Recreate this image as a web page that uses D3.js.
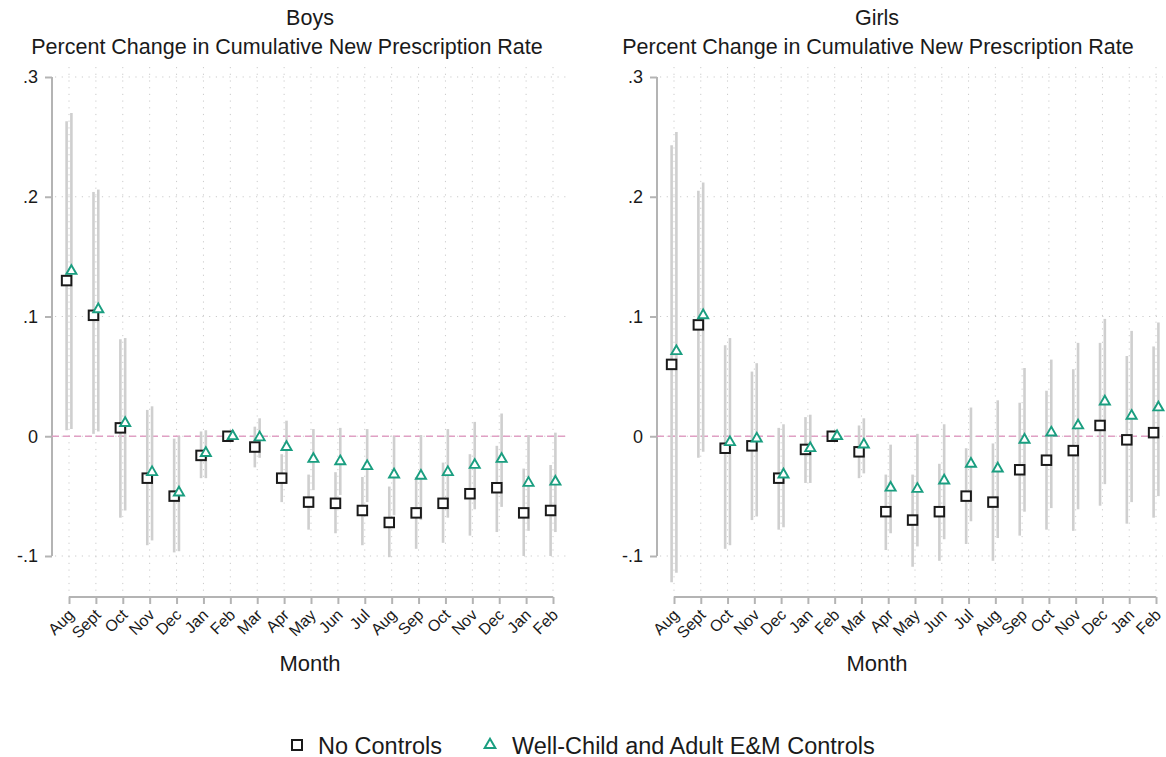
<!DOCTYPE html>
<html>
<head>
<meta charset="utf-8">
<script src="https://cdn.jsdelivr.net/npm/d3@7"></script>
<style>
  html, body { margin: 0; padding: 0; background: #fff; }
  svg { display: block; font-family: "Liberation Sans", Arial, Helvetica, sans-serif; }
</style>
</head>
<body>
<svg id="chart" width="1166" height="757"></svg>
<script>
// ---------- DATA ----------
const months = ["Aug","Sept","Oct","Nov","Dec","Jan","Feb","Mar","Apr","May","Jun","Jul","Aug","Sep","Oct","Nov","Dec","Jan","Feb"];
const yTicks = [0.3, 0.2, 0.1, 0, -0.1];
const yTickLabels = [".3", ".2", ".1", "0", "-.1"];
const seriesNames = ["No Controls", "Well-Child and Adult E&M Controls"];

// Boys
const boysNoCtrl      = [0.130, 0.101, 0.007, -0.035, -0.050, -0.016, 0, -0.009, -0.035, -0.055, -0.056, -0.062, -0.072, -0.064, -0.056, -0.048, -0.043, -0.064, -0.062];
const boysNoCtrlLo    = [0.005, 0.002, -0.068, -0.091, -0.097, -0.035, null, -0.026, -0.055, -0.078, -0.081, -0.091, -0.101, -0.094, -0.089, -0.083, -0.080, -0.100, -0.100];
const boysNoCtrlHi    = [0.263, 0.204, 0.081, 0.022, -0.002, 0.004, null, 0.008, -0.015, -0.032, -0.030, -0.034, -0.042, -0.034, -0.022, -0.015, -0.008, -0.027, -0.024];
const boysCtrl        = [0.138, 0.106, 0.011, -0.030, -0.047, -0.014, 0, -0.001, -0.009, -0.019, -0.021, -0.025, -0.032, -0.033, -0.030, -0.024, -0.019, -0.039, -0.038];
const boysCtrlLo      = [0.006, 0.004, -0.062, -0.087, -0.096, -0.035, null, -0.018, -0.030, -0.045, -0.049, -0.055, -0.066, -0.070, -0.068, -0.061, -0.059, -0.079, -0.080];
const boysCtrlHi      = [0.270, 0.206, 0.082, 0.025, 0.000, 0.005, null, 0.015, 0.013, 0.006, 0.007, 0.006, 0.000, 0.001, 0.006, 0.012, 0.019, 0.001, 0.003];

// Girls
const girlsNoCtrl     = [0.060, 0.093, -0.010, -0.008, -0.035, -0.011, 0, -0.013, -0.063, -0.070, -0.063, -0.050, -0.055, -0.028, -0.020, -0.012, 0.009, -0.003, 0.003];
const girlsNoCtrlLo   = [-0.122, -0.018, -0.094, -0.070, -0.078, -0.039, null, -0.035, -0.095, -0.109, -0.104, -0.090, -0.104, -0.083, -0.078, -0.079, -0.058, -0.073, -0.068];
const girlsNoCtrlHi   = [0.243, 0.205, 0.076, 0.054, 0.007, 0.016, null, 0.009, -0.032, -0.032, -0.023, -0.010, -0.006, 0.028, 0.038, 0.056, 0.078, 0.067, 0.075];
const girlsCtrl       = [0.071, 0.101, -0.005, -0.002, -0.032, -0.010, 0, -0.007, -0.043, -0.044, -0.037, -0.023, -0.027, -0.003, 0.003, 0.009, 0.029, 0.017, 0.024];
const girlsCtrlLo     = [-0.114, -0.013, -0.091, -0.067, -0.076, -0.039, null, -0.031, -0.081, -0.092, -0.086, -0.071, -0.085, -0.063, -0.060, -0.061, -0.040, -0.055, -0.050];
const girlsCtrlHi     = [0.254, 0.212, 0.082, 0.061, 0.010, 0.018, null, 0.015, -0.007, 0.002, 0.010, 0.024, 0.030, 0.057, 0.064, 0.078, 0.098, 0.088, 0.095];

// ---------- STYLE ----------
const GREEN = "#1a9e80";
const BAR = "#cfcfcf";
const AXIS = "#b4b4b4";
const GRID = "#cbcbcb";
const PINK = "#e0a0c4";
const TXT = "#1a1a1a";

const svg = d3.select("#chart");

function panel(opt) {
  const g = svg.append("g");
  const x = d3.scalePoint().domain(d3.range(months.length)).range([opt.x0, opt.x1]);
  const y = d3.scaleLinear().domain([-0.1, 0.3]).range([556, 77]);
  const top = 67, bottom = 597;

  // titles
  g.append("text").attr("x", opt.cx).attr("y", 25).attr("text-anchor", "middle")
    .attr("font-size", 21.5).attr("fill", TXT).text(opt.title);
  g.append("text").attr("x", opt.scx).attr("y", 54).attr("text-anchor", "middle")
    .attr("font-size", 21.5).attr("fill", TXT).text("Percent Change in Cumulative New Prescription Rate");

  // grid - horizontal
  g.selectAll(".hg").data(yTicks).join("line")
    .attr("x1", opt.ax + 3).attr("x2", opt.right)
    .attr("y1", d => y(d)).attr("y2", d => y(d))
    .attr("stroke", GRID).attr("stroke-width", 1).attr("stroke-dasharray", "1.2,5.5");
  // grid - vertical
  g.selectAll(".vg").data(d3.range(months.length)).join("line")
    .attr("x1", d => x(d)).attr("x2", d => x(d))
    .attr("y1", top).attr("y2", bottom)
    .attr("stroke", GRID).attr("stroke-width", 1).attr("stroke-dasharray", "1.2,5.5");

  // y axis (Stata-style: line spans tick range)
  const yAxis = d3.axisLeft(y).tickValues(yTicks).tickSize(7)
    .tickFormat((d, i) => yTickLabels[i]).tickPadding(7);
  const ya = g.append("g").attr("transform", `translate(${opt.ax},0)`).call(yAxis);
  ya.select(".domain").attr("d", `M0,${y(0.3)}V${y(-0.1)}`).attr("stroke", AXIS).attr("stroke-width", 2);
  ya.selectAll(".tick line").attr("stroke", AXIS).attr("stroke-width", 2);
  ya.selectAll(".tick text").attr("font-size", 18).attr("fill", TXT)
    .attr("font-family", "Liberation Sans, Arial, sans-serif");

  // x axis
  const xAxis = d3.axisBottom(x).tickSize(7).tickFormat(i => months[i]).tickPadding(3);
  const xa = g.append("g").attr("transform", `translate(0,${bottom})`).call(xAxis);
  xa.select(".domain").attr("d", `M${opt.x0},0H${opt.x1}`).attr("stroke", AXIS).attr("stroke-width", 2);
  xa.selectAll(".tick line").attr("stroke", AXIS).attr("stroke-width", 2);
  xa.selectAll(".tick text").attr("font-size", 16).attr("fill", TXT)
    .attr("font-family", "Liberation Sans, Arial, sans-serif")
    .attr("text-anchor", "end").attr("dy", "0.35em")
    .attr("transform", "translate(1.5,15) rotate(-45)").attr("y", 0).attr("x", 0);

  g.append("text").attr("x", opt.cx).attr("y", 671).attr("text-anchor", "middle")
    .attr("font-size", 22).attr("fill", TXT).text("Month");

  // zero reference line
  g.append("line").attr("x1", opt.ax).attr("x2", opt.right)
    .attr("y1", y(0)).attr("y2", y(0))
    .attr("stroke", PINK).attr("stroke-width", 1.7).attr("stroke-dasharray", "7,4");

  const off = 2.4;
  const nc = months.map((m, i) => ({ i, v: opt.nc[i], lo: opt.ncLo[i], hi: opt.ncHi[i] }));
  const cc = months.map((m, i) => ({ i, v: opt.c[i], lo: opt.cLo[i], hi: opt.cHi[i] }));

  // CI bars
  g.selectAll(".ncbar").data(nc.filter(d => d.lo !== null)).join("line")
    .attr("x1", d => x(d.i) - off).attr("x2", d => x(d.i) - off)
    .attr("y1", d => y(d.lo)).attr("y2", d => y(d.hi))
    .attr("stroke", BAR).attr("stroke-width", 2.6);
  g.selectAll(".cbar").data(cc.filter(d => d.lo !== null)).join("line")
    .attr("x1", d => x(d.i) + off).attr("x2", d => x(d.i) + off)
    .attr("y1", d => y(d.lo)).attr("y2", d => y(d.hi))
    .attr("stroke", BAR).attr("stroke-width", 2.6);

  // markers
  const sq = 9.5;
  g.selectAll(".sq").data(nc).join("rect")
    .attr("x", d => x(d.i) - off - sq / 2).attr("y", d => y(d.v) - sq / 2)
    .attr("width", sq).attr("height", sq)
    .attr("fill", "#fff").attr("stroke", TXT).attr("stroke-width", 2);
  const tri = d3.symbol().type(d3.symbolTriangle).size(44);
  g.selectAll(".tri").data(cc).join("path")
    .attr("d", tri)
    .attr("transform", d => `translate(${x(d.i) + off},${y(d.v)})`)
    .attr("fill", "#fff").attr("stroke", GREEN).attr("stroke-width", 1.9);
}

panel({ title: "Boys", x0: 69, x1: 553, ax: 52, right: 568, cx: 310, scx: 287,
  nc: boysNoCtrl, ncLo: boysNoCtrlLo, ncHi: boysNoCtrlHi,
  c: boysCtrl, cLo: boysCtrlLo, cHi: boysCtrlHi });
panel({ title: "Girls", x0: 674, x1: 1156, ax: 657, right: 1163, cx: 877, scx: 878,
  nc: girlsNoCtrl, ncLo: girlsNoCtrlLo, ncHi: girlsNoCtrlHi,
  c: girlsCtrl, cLo: girlsCtrlLo, cHi: girlsCtrlHi });

// legend
const lg = svg.append("g");
lg.append("rect").attr("x", 297 - 5).attr("y", 745 - 5).attr("width", 10).attr("height", 10)
  .attr("fill", "#fff").attr("stroke", TXT).attr("stroke-width", 2);
lg.append("text").attr("x", 318).attr("y", 753.5).attr("font-size", 23.5).attr("fill", TXT).text(seriesNames[0]);
lg.append("path").attr("d", d3.symbol().type(d3.symbolTriangle).size(50))
  .attr("transform", "translate(490,745)")
  .attr("fill", "#fff").attr("stroke", GREEN).attr("stroke-width", 2);
lg.append("text").attr("x", 512).attr("y", 753.5).attr("font-size", 23.5).attr("fill", TXT).text(seriesNames[1]);
</script>
</body>
</html>
